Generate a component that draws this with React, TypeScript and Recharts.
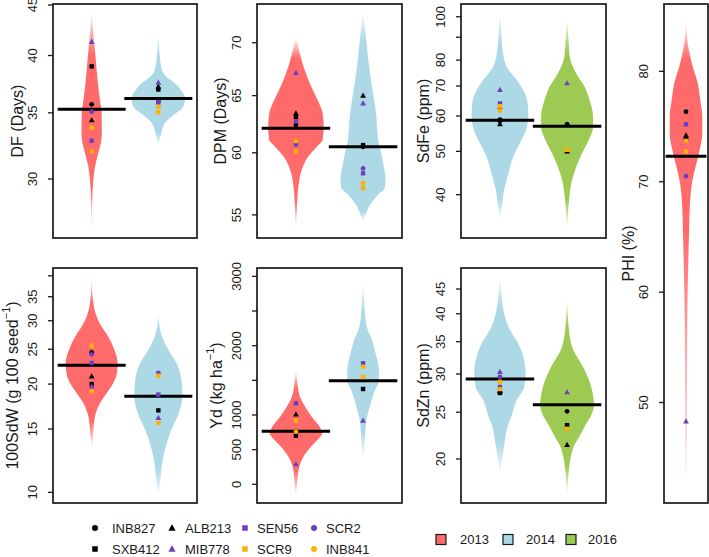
import React from 'react';
import { ComposedChart, Area, Scatter, XAxis, YAxis, ReferenceLine } from 'recharts';

const FONT = '"Liberation Sans", Arial, Helvetica, sans-serif';
const INK = '#1a1a1a';

// ---------- genotypes ----------
const genotypes = ['INB827', 'ALB213', 'SEN56', 'SCR2', 'SXB412', 'MIB778', 'SCR9', 'INB841'];
const genoShapes = ['circle', 'triangle', 'square', 'circle', 'square', 'triangle', 'square', 'circle'];
const genoColors = ['#000000', '#000000', '#6b3fc2', '#6b3fc2', '#000000', '#6b3fc2', '#ffb000', '#ffb000'];
const legendRow1 = ['INB827', 'ALB213', 'SEN56', 'SCR2'];
const legendRow2 = ['SXB412', 'MIB778', 'SCR9', 'INB841'];

// ---------- years ----------
const years = ['2013', '2014', '2016'];
const yearColors = ['#ff6a6a', '#add8e6', '#9cca52'];

// ---------- violin outlines: value levels and half-widths (x units) ----------
const dfV13 = [26.6, 28.6, 29.93, 30.85, 31.6, 32.6, 33.4, 35.0, 36.05, 37.5, 39.0, 41.3, 42.95, 44.3];
const dfW13 = [0, 0.01, 0.025, 0.049, 0.085, 0.137, 0.153, 0.149, 0.124, 0.094, 0.07, 0.037, 0.012, 0];
const dfV14 = [32.5, 33.4, 34.2, 34.8, 35.5, 36.22, 36.9, 37.5, 38.07, 39.0, 40.5, 42.2];
const dfW14 = [0, 0.045, 0.1, 0.224, 0.373, 0.402, 0.343, 0.249, 0.119, 0.042, 0.015, 0];

const dpmV13 = [53.9, 55.65, 57.25, 58.6, 59.7, 60.5, 61.1, 62.2, 63.4, 64.6, 66.1, 67.7, 69.5, 70.35];
const dpmW13 = [0, 0.015, 0.037, 0.086, 0.186, 0.31, 0.398, 0.414, 0.398, 0.323, 0.209, 0.112, 0.037, 0];
const dpmV14 = [54.5, 54.9, 55.65, 56.5, 57.2, 57.9, 58.9, 60.0, 61.1, 62.2, 63.4, 65.2, 67.7, 71.0, 73.1];
const dpmW14 = [0, 0.03, 0.089, 0.209, 0.328, 0.335, 0.306, 0.268, 0.224, 0.209, 0.194, 0.149, 0.089, 0.037, 0];

const feV14 = [35.4, 37.6, 40.9, 44.5, 48.6, 52.2, 55.7, 59.8, 64.0, 68.6, 72.2, 77.3, 84.3, 91.8, 101.8];
const feW14 = [0, 0.03, 0.06, 0.124, 0.198, 0.298, 0.387, 0.422, 0.413, 0.347, 0.249, 0.1, 0.04, 0.022, 0];
const feV16 = [33.3, 38.9, 42.4, 46.2, 49.5, 53.0, 56.7, 59.8, 65.1, 69.7, 74.7, 81.4, 88.7, 98.3];
const feW16 = [0, 0.03, 0.063, 0.137, 0.224, 0.323, 0.387, 0.387, 0.335, 0.261, 0.137, 0.04, 0.022, 0];

const phiV13 = [42.4, 47, 53.3, 56.3, 59.3, 62.3, 65.35, 68.4, 69.9, 71.4, 72.9, 74.4, 75.9, 77.4, 78.95, 80.45, 82.0, 84.5];
const phiW13 = [0, 0.02, 0.025, 0.029, 0.037, 0.054, 0.074, 0.103, 0.147, 0.238, 0.337, 0.4, 0.4, 0.351, 0.287, 0.165, 0.066, 0];

const swV13 = [13.4, 14.6, 16.24, 17.7, 18.87, 20.1, 21.4, 22.85, 24.9, 27.1, 28.9, 30.8, 34.3, 39.8];
const swW13 = [0, 0.022, 0.049, 0.124, 0.224, 0.323, 0.377, 0.39, 0.34, 0.249, 0.149, 0.075, 0.019, 0];
const swV14 = [9.83, 10.8, 12.04, 13.4, 14.9, 16.6, 18.45, 20.5, 22.85, 24.9, 27.7, 31.8];
const swW14 = [0, 0.03, 0.057, 0.112, 0.194, 0.306, 0.361, 0.347, 0.273, 0.149, 0.04, 0];

const ydV13 = [-154, 62, 254, 398, 543, 664, 736, 831, 975, 1120, 1264, 1457, 1649];
const ydW13 = [0, 0.022, 0.049, 0.112, 0.224, 0.343, 0.392, 0.353, 0.235, 0.137, 0.06, 0.022, 0];
const ydV14 = [375, 639, 928, 1120, 1361, 1450, 1600, 1746, 1890, 2082, 2274, 2563, 2996];
const ydW14 = [0, 0.025, 0.049, 0.1, 0.179, 0.224, 0.238, 0.224, 0.186, 0.134, 0.055, 0.022, 0];

const znV14 = [18.8, 20.2, 21.9, 23.0, 24.6, 26.5, 28.2, 30.1, 32.6, 34.7, 37.0, 40.2, 43.4, 47.7];
const znW14 = [0, 0.037, 0.075, 0.1, 0.174, 0.249, 0.362, 0.383, 0.347, 0.273, 0.149, 0.06, 0.025, 0];
const znV16 = [16.8, 18.7, 20.2, 21.3, 22.3, 23.5, 24.6, 25.9, 27.2, 28.7, 31.1, 33.6, 36.4, 43.4];
const znW16 = [0, 0.022, 0.055, 0.104, 0.186, 0.273, 0.358, 0.402, 0.385, 0.343, 0.235, 0.094, 0.034, 0];

// ---------- genotype values (order = genotypes) ----------
const dfP13 = [35.7, 34.4, 32.8, 35.1, 39.0, 41.3, 33.8, 32.0];
const dfP14 = [36.0, 37.2, 35.85, 35.9, 36.95, 37.55, 35.5, 35.05];
const dpmP13 = [62.4, 63.4, 62.7, 60.7, 63.1, 67.1, 60.1, 61.0];
const dpmP14 = [60.5, 65.0, 58.3, 58.7, 60.65, 64.3, 57.5, 57.1];
const feP14 = [58.9, 57.5, 64.0, 62.4, 58.6, 68.6, 63.1, 61.6];
const feP16 = [57.5, 50.0, null, null, null, 71.0, 50.4, null];
const phiP13 = [76.35, 74.2, 75.2, 70.5, 73.9, 48.3, 72.75, 73.7];
const swP13 = [24.5, 21.0, 22.9, 24.2, 20.0, 19.7, 25.6, 19.1];
const swP14 = [null, null, 18.7, 21.5, 16.9, 16.1, 21.1, 15.6];
const ydP13 = [759, 1010, 1169, 701, 701, 289, 918, 759];
const ydP14 = [null, null, 1746, null, 1375, 918, 1548, 1697];
const znP14 = [27.5, 27.6, 28.2, 29.6, 27.4, 30.3, 28.9, 27.9];
const znP16 = [25.1, 21.4, null, null, 23.5, 27.5, 23.1, null];

// ---------- means ----------
const dfMeans = [35.3, 36.2];
const dpmMeans = [62.1, 60.5];
const feMeans = [58.7, 56.9];
const phiMeans = [72.3];
const swMeans = [22.56, 18.5];
const ydMeans = [765, 1495];
const znMeans = [29.3, 25.9];

// ---------- tick values ----------
const dfTicks = [30, 35, 40, 45];
const dpmTicks = [55, 60, 65, 70];
const feTicks = [40, 50, 60, 70, 80, 90, 100];
const feLabels = [40, 50, 60, 70, 80, 100];
const phiTicks = [50, 60, 70, 80];
const swTicks = [10, 15, 20, 25, 30, 35, 40];
const swLabels = [10, 15, 20, 25, 30, 35];
const ydTicks = [0, 500, 1000, 1500, 2000, 2500, 3000];
const ydLabels = [0, 500, 1000, 2000, 3000];
const znTicks = [20, 25, 30, 35, 40, 45];

type Violin = { year: number; pos: number; v: number[]; w: number[]; ft: number; fb: number };
type PanelCfg = {
  id: string; left: number; top: number; w: number; h: number;
  title: React.ReactNode; titleShift: number; log: boolean;
  yDomain: [number, number]; xDomain: [number, number]; half: number;
  ticks: number[]; labels: number[];
  violins: Violin[];
  pts: { pos: number; vals: (number | null)[] }[];
  means: { pos: number; v: number }[];
};

const sup = (main: string) => (
  <>
    {main}
    <tspan dy={-6} fontSize={11}>−1</tspan>
    <tspan dy={6}>)</tspan>
  </>
);

const two: [number, number] = [0.42, 2.58];

const panels: PanelCfg[] = [
  {
    id: 'df', left: 53, top: 4, w: 144, h: 234, title: 'DF (Days)', titleShift: 36, log: true,
    yDomain: [26.15, 45.1], xDomain: two, half: 0.51, ticks: dfTicks, labels: dfTicks,
    violins: [
      { year: 0, pos: 1, v: dfV13, w: dfW13, ft: 0.2, fb: 0.2 },
      { year: 1, pos: 2, v: dfV14, w: dfW14, ft: 0.2, fb: 0.1 },
    ],
    pts: [{ pos: 1, vals: dfP13 }, { pos: 2, vals: dfP14 }],
    means: [{ pos: 1, v: dfMeans[0] }, { pos: 2, v: dfMeans[1] }],
  },
  {
    id: 'dpm', left: 257, top: 4, w: 145, h: 234, title: 'DPM (Days)', titleShift: 37, log: true,
    yDomain: [53.25, 73.9], xDomain: two, half: 0.51, ticks: dpmTicks, labels: dpmTicks,
    violins: [
      { year: 0, pos: 1, v: dpmV13, w: dpmW13, ft: 0.1, fb: 0.15 },
      { year: 1, pos: 2, v: dpmV14, w: dpmW14, ft: 0.15, fb: 0.05 },
    ],
    pts: [{ pos: 1, vals: dpmP13 }, { pos: 2, vals: dpmP14 }],
    means: [{ pos: 1, v: dpmMeans[0] }, { pos: 2, v: dpmMeans[1] }],
  },
  {
    id: 'fe', left: 461, top: 4, w: 145, h: 234, title: 'SdFe (ppm)', titleShift: 38, log: true,
    yDomain: [32.0, 106.8], xDomain: two, half: 0.51, ticks: feTicks, labels: feLabels,
    violins: [
      { year: 1, pos: 1, v: feV14, w: feW14, ft: 0.15, fb: 0.1 },
      { year: 2, pos: 2, v: feV16, w: feW16, ft: 0.15, fb: 0.15 },
    ],
    pts: [{ pos: 1, vals: feP14 }, { pos: 2, vals: feP16 }],
    means: [{ pos: 1, v: feMeans[0] }, { pos: 2, v: feMeans[1] }],
  },
  {
    id: 'phi', left: 664, top: 4, w: 44, h: 499, title: 'PHI (%)', titleShift: 36, log: false,
    yDomain: [40.9, 86.1], xDomain: [0.46, 1.54], half: 0.5, ticks: phiTicks, labels: phiTicks,
    violins: [{ year: 0, pos: 1, v: phiV13, w: phiW13, ft: 0.08, fb: 0.55 }],
    pts: [{ pos: 1, vals: phiP13 }],
    means: [{ pos: 1, v: phiMeans[0] }],
  },
  {
    id: 'sw', left: 53, top: 268, w: 144, h: 235, title: sup('100SdW (g 100 seed'), titleShift: 41, log: true,
    yDomain: [9.34, 42.06], xDomain: two, half: 0.51, ticks: swTicks, labels: swLabels,
    violins: [
      { year: 0, pos: 1, v: swV13, w: swW13, ft: 0.15, fb: 0.15 },
      { year: 1, pos: 2, v: swV14, w: swW14, ft: 0.1, fb: 0.15 },
    ],
    pts: [{ pos: 1, vals: swP13 }, { pos: 2, vals: swP14 }],
    means: [{ pos: 1, v: swMeans[0] }, { pos: 2, v: swMeans[1] }],
  },
  {
    id: 'yd', left: 257, top: 268, w: 145, h: 235, title: sup('Yd (kg ha'), titleShift: 41, log: false,
    yDomain: [-270, 3121], xDomain: two, half: 0.51, ticks: ydTicks, labels: ydLabels,
    violins: [
      { year: 0, pos: 1, v: ydV13, w: ydW13, ft: 0.15, fb: 0.2 },
      { year: 1, pos: 2, v: ydV14, w: ydW14, ft: 0.2, fb: 0.15 },
    ],
    pts: [{ pos: 1, vals: ydP13 }, { pos: 2, vals: ydP14 }],
    means: [{ pos: 1, v: ydMeans[0] }, { pos: 2, v: ydMeans[1] }],
  },
  {
    id: 'zn', left: 461, top: 268, w: 145, h: 235, title: 'SdZn (ppm)', titleShift: 38, log: true,
    yDomain: [16.21, 49.75], xDomain: two, half: 0.51, ticks: znTicks, labels: znTicks,
    violins: [
      { year: 1, pos: 1, v: znV14, w: znW14, ft: 0.15, fb: 0.15 },
      { year: 2, pos: 2, v: znV16, w: znW16, ft: 0.15, fb: 0.15 },
    ],
    pts: [{ pos: 1, vals: znP14 }, { pos: 2, vals: znP16 }],
    means: [{ pos: 1, v: znMeans[0] }, { pos: 2, v: znMeans[1] }],
  },
];

const YW = 53;
const PAD = 14;

function Marker({ shape, x, y, color, s = 1 }: { shape: string; x: number; y: number; color: string; s?: number }) {
  if (shape === 'circle') return <circle cx={x} cy={y} r={2.4 * s} fill={color} />;
  if (shape === 'square') return <rect x={x - 2.2 * s} y={y - 2.2 * s} width={4.4 * s} height={4.4 * s} fill={color} />;
  return (
    <polygon
      points={`${x},${y - 3.1 * s} ${x - 2.9 * s},${y + 2.1 * s} ${x + 2.9 * s},${y + 2.1 * s}`}
      fill={color}
    />
  );
}

function makeTick(labels: number[]) {
  return (props: any) => {
    const { x, y, payload } = props;
    if (!labels.includes(payload.value)) return <g />;
    return (
      <text
        x={x}
        y={y}
        transform={`rotate(-90 ${x} ${y})`}
        textAnchor="middle"
        fontSize={13}
        fontFamily={FONT}
        fill={INK}
      >
        {payload.value}
      </text>
    );
  };
}

function Panel({ cfg }: { cfg: PanelCfg }) {
  return (
    <div style={{ position: 'absolute', left: cfg.left - YW, top: cfg.top - PAD }}>
      <ComposedChart
        layout="vertical"
        width={YW + cfg.w}
        height={cfg.h + 2 * PAD}
        margin={{ top: PAD, bottom: PAD, left: 0, right: 0 }}
      >
        <defs>
          {cfg.violins.map((vl) => {
            const c = yearColors[vl.year];
            return (
              <linearGradient key={vl.year} id={`g-${cfg.id}-${vl.year}`} x1="0" y1="0" x2="0" y2="1">
                <stop offset={0} stopColor={c} stopOpacity={0.12} />
                <stop offset={vl.ft} stopColor={c} stopOpacity={1} />
                <stop offset={1 - vl.fb} stopColor={c} stopOpacity={1} />
                <stop offset={1} stopColor={c} stopOpacity={0.12} />
              </linearGradient>
            );
          })}
        </defs>
        <XAxis type="number" dataKey="x" domain={cfg.xDomain} allowDataOverflow hide />
        <YAxis
          type="number"
          dataKey="v"
          scale={cfg.log ? 'log' : 'linear'}
          domain={cfg.yDomain}
          allowDataOverflow
          reversed
          ticks={cfg.ticks}
          interval={0}
          width={YW}
          axisLine={false}
          tickLine={{ stroke: INK, strokeWidth: 1.3 }}
          tickSize={5}
          tickMargin={11}
          tick={makeTick(cfg.labels)}
        />
        {cfg.violins.map((vl) => (
          <Area
            key={`a-${vl.year}`}
            data={vl.v.map((val, i) => ({ v: val, r: [vl.pos - vl.w[i], vl.pos + vl.w[i]] }))}
            dataKey="r"
            type="monotone"
            stroke="none"
            fill={`url(#g-${cfg.id}-${vl.year})`}
            fillOpacity={1}
            dot={false}
            activeDot={false}
            isAnimationActive={false}
          />
        ))}
        {cfg.means.map((m) => (
          <ReferenceLine
            key={`m-${m.pos}`}
            segment={[
              { x: m.pos - cfg.half, y: m.v },
              { x: m.pos + cfg.half, y: m.v },
            ]}
            stroke="#000"
            strokeWidth={3}
            ifOverflow="visible"
          />
        ))}
        {genotypes.map((g, gi) => {
          const data = cfg.pts
            .filter((p) => p.vals[gi] != null)
            .map((p) => ({ x: p.pos, v: p.vals[gi] as number }));
          return (
            <Scatter
              key={g}
              name={g}
              data={data}
              fill={genoColors[gi]}
              isAnimationActive={false}
              shape={(props: any) =>
                props.cx == null ? <g /> : (
                  <Marker shape={genoShapes[gi]} x={props.cx} y={props.cy} color={genoColors[gi]} />
                )
              }
            />
          );
        })}
      </ComposedChart>
    </div>
  );
}

function Overlay() {
  const rowsY = [528, 549];
  const markerX = [95, 172, 245, 314];
  const textX = [112, 185, 257, 326];
  const yearBoxX = [441, 508, 571];
  const yearTextX = [460, 526, 588];
  return (
    <svg width={709} height={557} style={{ position: 'absolute', left: 0, top: 0, pointerEvents: 'none' }}>
      {panels.map((p) => (
        <g key={p.id}>
          <rect x={p.left} y={p.top} width={p.w} height={p.h} fill="none" stroke={INK} strokeWidth={1.7} />
          <text
            x={p.left - p.titleShift}
            y={p.top + p.h / 2}
            transform={`rotate(-90 ${p.left - p.titleShift} ${p.top + p.h / 2})`}
            textAnchor="middle"
            dominantBaseline="central"
            fontSize={16}
            fontFamily={FONT}
            fill={INK}
          >
            {p.title}
          </text>
        </g>
      ))}
      {[legendRow1, legendRow2].map((row, ri) =>
        row.map((g, ci) => {
          const gi = genotypes.indexOf(g);
          return (
            <g key={g}>
              <Marker shape={genoShapes[gi]} x={markerX[ci]} y={rowsY[ri]} color={genoColors[gi]} s={1.25} />
              <text x={textX[ci]} y={rowsY[ri] + 4.5} fontSize={13} fontFamily={FONT} fill={INK}>
                {g}
              </text>
            </g>
          );
        })
      )}
      {years.map((y, i) => (
        <g key={y}>
          <rect x={yearBoxX[i] - 5} y={534.5} width={10} height={10} fill={yearColors[i]} stroke={INK} strokeWidth={1.2} />
          <text x={yearTextX[i]} y={544.3} fontSize={13} fontFamily={FONT} fill={INK}>
            {y}
          </text>
        </g>
      ))}
    </svg>
  );
}

export default function App() {
  return (
    <div style={{ position: 'absolute', left: 0, top: 0, width: 709, height: 557, background: '#fff', fontFamily: FONT }}>
      {panels.map((p) => (
        <Panel key={p.id} cfg={p} />
      ))}
      <Overlay />
    </div>
  );
}
